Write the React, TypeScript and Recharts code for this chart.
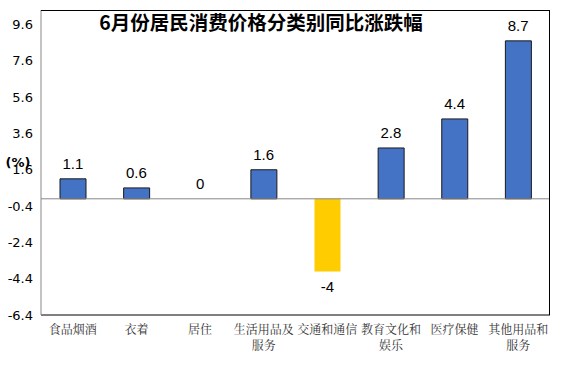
import React from 'react';
import { ComposedChart, Bar, Line, XAxis, YAxis, Cell, LabelList, ReferenceLine, Customized } from 'recharts';

const categories = ['食品烟酒', '衣着', '居住', '生活用品及服务', '交通和通信', '教育文化和娱乐', '医疗保健', '其他用品和服务'];
const categoryLines = [['食品烟酒'], ['衣着'], ['居住'], ['生活用品及', '服务'], ['交通和通信'], ['教育文化和', '娱乐'], ['医疗保健'], ['其他用品和', '服务']];
const values = [1.1, 0.6, 0, 1.6, -4, 2.8, 4.4, 8.7];
const yTicks = [-6.4, -4.4, -2.4, -0.4, 1.6, 3.6, 5.6, 7.6, 9.6];
const title = '6月份居民消费价格分类别同比涨跌幅';
const unit = '(%)';

const W = 574;
const H = 374;
const M = { top: 10, right: 24, bottom: 0, left: 0 };
const Y_AXIS_W = 41;
const X_AXIS_H = 59;

const data = categories.map((c, i) => ({ name: c, idx: i, value: values[i] }));

const XTick = (props: any) => {
  const { x, y, payload } = props;
  const lines = categoryLines[payload.index] || [payload.value];
  return (
    <g>
      {lines.map((l: string, k: number) => (
        <text key={k} x={x} y={y + 11 + k * 16} textAnchor="middle" fontSize={12} fill="#333"
          fontFamily="'Noto Serif CJK SC', 'Noto Sans CJK SC', serif">{l}</text>
      ))}
    </g>
  );
};

const ValueLabel = (props: any) => {
  const { x, y, value } = props;
  const neg = value < 0;
  return (
    <text x={x} y={neg ? y + 21 : y - 10} textAnchor="middle" fontSize={15} fill="#000"
      fontFamily="'Liberation Sans', Arial, sans-serif">{value}</text>
  );
};

const Overlay = () => (
  <g>
    <text x={261} y={30} textAnchor="middle" fontSize={19.5} fontWeight="bold" fill="#000"
      fontFamily="'Noto Sans CJK SC', sans-serif">{title}</text>
    <text x={18} y={167} textAnchor="middle" fontSize={13} fontWeight="bold" fill="#000"
      fontFamily="'DejaVu Sans', sans-serif">{unit}</text>
  </g>
);

export default function App() {
  const left = M.left + Y_AXIS_W;
  const top = M.top;
  const plotW = W - M.right - left;
  const plotH = H - M.bottom - X_AXIS_H - top;
  return (
    <div style={{ position: 'absolute', left: 0, top: 0, width: W, height: H, background: '#fff' }}>
      <ComposedChart width={W} height={H} data={data} margin={M}>
        <XAxis dataKey="name" height={X_AXIS_H} tickLine={false} interval={0}
          axisLine={{ stroke: '#000', strokeWidth: 1 }} tick={<XTick />} />
        <YAxis width={Y_AXIS_W} domain={[-6.4, 10.4]} ticks={yTicks} tickLine={false} interval={0}
          axisLine={{ stroke: '#888', strokeWidth: 1 }} allowDataOverflow
          tick={{ fontSize: 13, fill: '#000', fontFamily: "'DejaVu Sans', sans-serif" }}
          tickFormatter={(v: number) => v.toFixed(1)} />
        <ReferenceLine y={0} stroke="#888" strokeWidth={1} />
        <Bar dataKey="value" barSize={26} isAnimationActive={false}>
          {data.map((d, i) => (
            <Cell key={i} fill={d.value < 0 ? '#FFCC00' : '#4472C4'} stroke={d.value < 0 ? 'none' : '#1a1a1a'} strokeWidth={1} />
          ))}
        </Bar>
        <Line dataKey="value" stroke="none" dot={false} activeDot={false} isAnimationActive={false} legendType="none">
          <LabelList dataKey="value" content={<ValueLabel />} />
        </Line>
        <Customized component={Overlay} />
      </ComposedChart>
      <div style={{
        position: 'absolute', left: left, top: top - 0.5, width: plotW, height: plotH,
        borderTop: '1px solid #000', borderRight: '1px solid #000', pointerEvents: 'none', boxSizing: 'border-box',
      }} />
    </div>
  );
}
